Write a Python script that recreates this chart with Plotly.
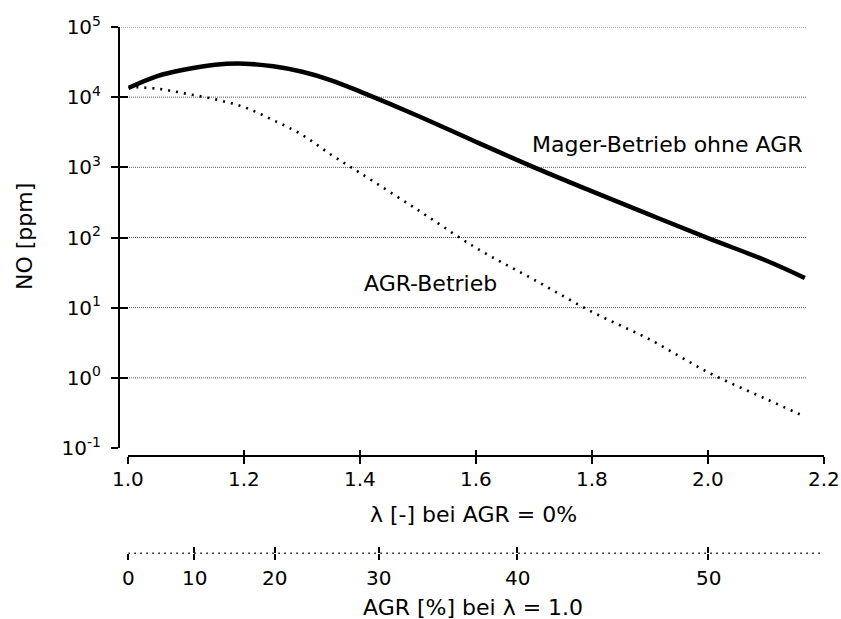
import plotly.graph_objects as go

# ---------------- data ----------------
lam_mager = [1.0, 1.05, 1.1, 1.15, 1.2, 1.25, 1.3, 1.35, 1.4, 1.5, 1.6, 1.7, 1.8, 1.9, 2.0, 2.1, 2.167]
no_mager = [13500, 20000, 25000, 29000, 30000, 27500, 23000, 17400, 12000, 5400, 2300, 1000, 455, 210, 98, 47, 26.5]

lam_agr = [1.0, 1.05, 1.1, 1.15, 1.2, 1.25, 1.3, 1.35, 1.4, 1.5, 1.6, 1.7, 1.8, 1.9, 2.0, 2.1, 2.167]
no_agr = [14000, 13200, 11200, 9300, 7200, 4700, 2900, 1510, 830, 245, 71, 25, 8.7, 3.5, 1.2, 0.5, 0.28]

lam_tickvals = [1.0, 1.2, 1.4, 1.6, 1.8, 2.0, 2.2]
lam_ticktext = ["1.0", "1.2", "1.4", "1.6", "1.8", "2.0", "2.2"]

agr_ticktext = ["0", "10", "20", "30", "40", "50"]
agr_tick_lambda = [1.0, 1.114, 1.253, 1.432, 1.671, 2.0]   # λ-equivalent positions of AGR ticks
agr_axis_end = 2.198

no_tickvals = [1e-1, 1e0, 1e1, 1e2, 1e3, 1e4, 1e5]
no_ticktext = ["10<sup>-1</sup>", "10<sup>0</sup>", "10<sup>1</sup>", "10<sup>2</sup>",
               "10<sup>3</sup>", "10<sup>4</sup>", "10<sup>5</sup>"]
grid_vals = [1e0, 1e1, 1e2, 1e3, 1e4, 1e5]

# ---------------- layout helpers ----------------
W, H = 841, 619
FONT = "DejaVu Sans"


def px_x(p):
    return p / W


def px_y(p):
    return 1 - p / H


fig = go.Figure()

fig.add_trace(go.Scatter(
    x=lam_mager, y=no_mager, mode="lines", line=dict(color="black", width=4.5, shape="spline"),
    showlegend=False, hoverinfo="skip"))
fig.add_trace(go.Scatter(
    x=lam_agr, y=no_agr, mode="lines", line=dict(color="black", width=2.6, dash="2px,6px", shape="spline"),
    showlegend=False, hoverinfo="skip"))

# invisible helper traces so that the overlay axes (cross ticks, AGR scale) are drawn
for xa, ya in [("x2", "y"), ("x3", "y"), ("x4", "y"), ("x", "y2")]:
    fig.add_trace(go.Scatter(x=lam_agr[:1], y=no_agr[:1], xaxis=xa, yaxis=ya, mode="markers",
                             marker=dict(opacity=0), showlegend=False, hoverinfo="skip"))

tickfont = dict(family=FONT, size=20, color="black")
x_rng = [1.0, 2.2]
common = dict(automargin=False, showgrid=False, zeroline=False, tickcolor="black", tickwidth=2,
              tickmode="array")
pos_lam = px_y(456)
pos_agr = px_y(553.3)

fig.update_layout(
    template="none",
    width=W, height=H,
    margin=dict(l=0, r=0, t=0, b=0),
    paper_bgcolor="white", plot_bgcolor="white",
    font=dict(family=FONT, size=20, color="black"),
    # λ axis: line + downward half of cross ticks
    xaxis=dict(domain=[px_x(128.3), px_x(824)], range=x_rng, anchor="free", position=pos_lam,
               showline=True, linecolor="black", linewidth=2, ticks="outside", ticklen=7,
               tickvals=lam_tickvals, showticklabels=False, **common),
    # λ axis: upward half of the cross ticks
    xaxis2=dict(overlaying="x", range=x_rng, anchor="free", position=pos_lam,
                showline=False, ticks="inside", ticklen=6,
                tickvals=lam_tickvals, showticklabels=False, **common),
    # AGR axis cross ticks
    xaxis3=dict(overlaying="x", range=x_rng, anchor="free", position=pos_agr,
                showline=False, ticks="outside", ticklen=6,
                tickvals=agr_tick_lambda, showticklabels=False, **common),
    xaxis4=dict(overlaying="x", range=x_rng, anchor="free", position=pos_agr,
                showline=False, ticks="inside", ticklen=6,
                tickvals=agr_tick_lambda, showticklabels=False, **common),
    yaxis=dict(type="log", domain=[px_y(448), px_y(27)], range=[-1, 5],
               anchor="free", position=px_x(119), side="left",
               showline=True, linecolor="black", linewidth=2,
               ticks="outside", ticklen=7,
               tickvals=no_tickvals, ticktext=no_ticktext,
               tickfont=tickfont, ticklabelstandoff=6, **common),
    yaxis2=dict(type="log", overlaying="y", range=[-1, 5],
                anchor="free", position=px_x(119), side="left",
                showline=False, ticks="inside", ticklen=8,
                tickvals=no_tickvals, showticklabels=False, **common),
)

# dotted horizontal grid lines
for v in grid_vals:
    fig.add_shape(type="line", xref="paper", yref="y", x0=px_x(121), x1=px_x(806), y0=v, y1=v,
                  line=dict(color="#555555", width=1, dash="1px,1px"), layer="below")

# dotted AGR axis line
fig.add_shape(type="line", xref="x", yref="paper", x0=agr_tick_lambda[0], x1=agr_axis_end,
              y0=pos_agr, y1=pos_agr, line=dict(color="black", width=1.5, dash="1.5px,4.5px"))

# tick labels of the two horizontal scales
for v, t in zip(lam_tickvals, lam_ticktext):
    fig.add_annotation(xref="x", yref="paper", x=v, y=px_y(478.5), text=t, showarrow=False,
                       xanchor="center", yanchor="middle", font=tickfont)
for v, t in zip(agr_tick_lambda, agr_ticktext):
    fig.add_annotation(xref="x", yref="paper", x=v, y=px_y(577.5), text=t, showarrow=False,
                       xanchor="center", yanchor="middle", font=tickfont)

annots = [
    dict(text="Mager-Betrieb ohne AGR", x=px_x(805), y=px_y(145), xanchor="right", yanchor="middle"),
    dict(text="AGR-Betrieb", x=px_x(362), y=px_y(284), xanchor="left", yanchor="middle"),
    dict(text="λ [-] bei AGR = 0%", x=px_x(474), y=px_y(514), xanchor="center", yanchor="middle"),
    dict(text="AGR [%] bei λ = 1.0", x=px_x(473), y=px_y(607), xanchor="center", yanchor="middle"),
    dict(text="NO [ppm]", x=px_x(24), y=px_y(237), xanchor="center", yanchor="middle", textangle=-90),
]
for a in annots:
    fig.add_annotation(xref="paper", yref="paper", showarrow=False,
                       font=dict(family=FONT, size=22, color="black"), **a)

fig.write_html("out.html")
